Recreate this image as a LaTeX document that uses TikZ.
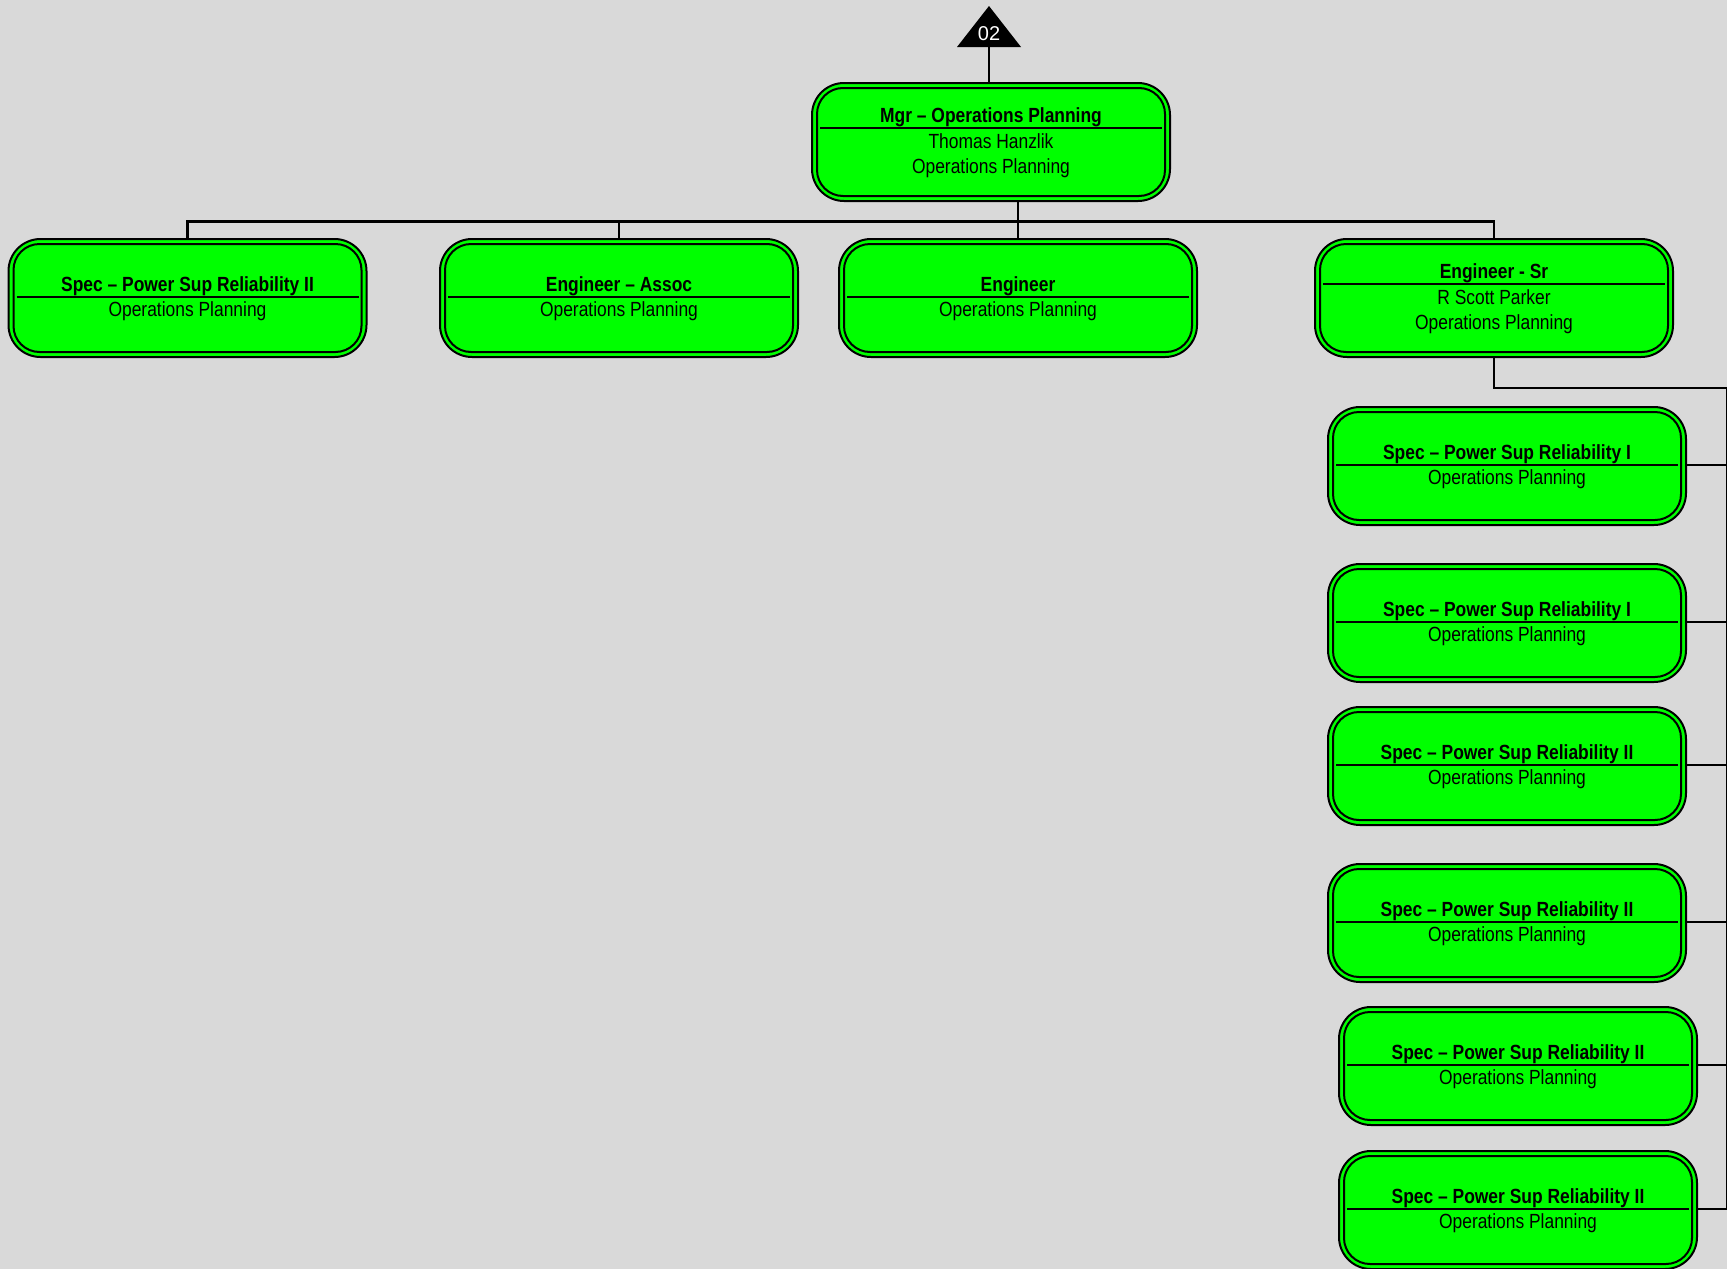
\documentclass[tikz,border=0pt]{standalone}
\usepackage{fontspec}
\setmainfont{Liberation Sans}[FakeStretch=0.85]
\newfontfamily\plainsans{Liberation Sans}
\definecolor{bg}{HTML}{D9D9D9}
\definecolor{boxgreen}{HTML}{00FF00}
\tikzset{
  obox/.style={draw=black, fill=boxgreen, line width=2pt, rounded corners=32pt,
    minimum width=358pt, minimum height=118pt, inner sep=0pt, anchor=north},
  inb/.style={draw=black, line width=2pt, rounded corners=26pt},
  tline/.style={draw=black, line width=2pt},
  conn/.style={draw=black, line width=2.8pt},
  ttl/.style={font=\fontsize{20.5}{24}\selectfont\bfseries, inner sep=0pt, anchor=base},
  subt/.style={font=\fontsize{20.5}{24}\selectfont, inner sep=0pt, anchor=base},
}
% name, cx, top, title line offset, title
\newcommand\oboxbase[5]{%
  \node[obox] (#1) at (#2,#3) {};
  \draw[inb] ([shift={(6,6)}]#1.north west) rectangle ([shift={(-6,-6)}]#1.south east);
  \coordinate (#1-c) at ([shift={(0,#4)}]#1.north);
  \coordinate (#1-r) at ([shift={(0,#4)}]#1.north east);
  \draw[tline] ([shift={(9,#4)}]#1.north west) -- ([shift={(-9,#4)}]#1.north east);
  \node[ttl] (#1-t) at ([shift={(0,-6)}]#1-c) {#5};
}
\newcommand\oboxtwo[5]{%
  \oboxbase{#1}{#2}{#3}{59}{#4}
  \node[subt] (#1-s) at ([shift={(0,19.5)}]#1-c) {#5};
}
\newcommand\oboxthree[6]{%
  \oboxbase{#1}{#2}{#3}{46}{#4}
  \node[subt] (#1-s) at ([shift={(0,20)}]#1-c) {#5};
  \node[subt] (#1-u) at ([shift={(0,45)}]#1-c) {#6};
}
\begin{document}
\begin{tikzpicture}[x=1pt,y=-1pt]
\fill[bg] (0,0) rectangle (1727,1269);
\useasboundingbox (0,0) rectangle (1727,1269);

% top triangle marker
\fill[black] (957,47) -- (989,6) -- (1021,47) -- cycle;
\coordinate (tribase) at (989,47);
\node[font=\plainsans\fontsize{20}{24}\selectfont, text=white, inner sep=0pt, anchor=base] (trilabel) at (989,40.5) {02};

% boxes
\oboxthree{mgr}{991}{82}{Mgr – Operations Planning}{Thomas Hanzlik}{Operations Planning}
\oboxtwo{A}{187.5}{238}{Spec – Power Sup Reliability II}{Operations Planning}
\oboxtwo{B}{619}{238}{Engineer – Assoc}{Operations Planning}
\oboxtwo{C}{1018}{238}{Engineer}{Operations Planning}
\oboxthree{D}{1494}{238}{Engineer - Sr}{R Scott Parker}{Operations Planning}
\oboxtwo{K1}{1507}{406}{Spec – Power Sup Reliability I}{Operations Planning}
\oboxtwo{K2}{1507}{563}{Spec – Power Sup Reliability I}{Operations Planning}
\oboxtwo{K3}{1507}{706}{Spec – Power Sup Reliability II}{Operations Planning}
\oboxtwo{K4}{1507}{863}{Spec – Power Sup Reliability II}{Operations Planning}
\oboxtwo{K5}{1518}{1006}{Spec – Power Sup Reliability II}{Operations Planning}
\oboxtwo{K6}{1518}{1150}{Spec – Power Sup Reliability II}{Operations Planning}

% connectors
\coordinate (bus) at (1018,221.5);
\coordinate (rb) at (1727,388);
\draw[conn] (tribase) -- (tribase |- mgr.north);
\draw[conn] (C.north |- mgr.south) -- (C.north);
\draw[conn] (A.north) -- (A.north |- bus) -- (D.north |- bus) -- (D.north);
\draw[conn] (B.north) -- (B.north |- bus);
\draw[conn] (D.south) -- (D.south |- rb) -- (rb) -- (rb |- K6-r);
\foreach \k in {K1,K2,K3,K4,K5,K6}{
  \draw[conn] (\k-r) -- (\k-r -| rb);
}
\end{tikzpicture}
\end{document}
